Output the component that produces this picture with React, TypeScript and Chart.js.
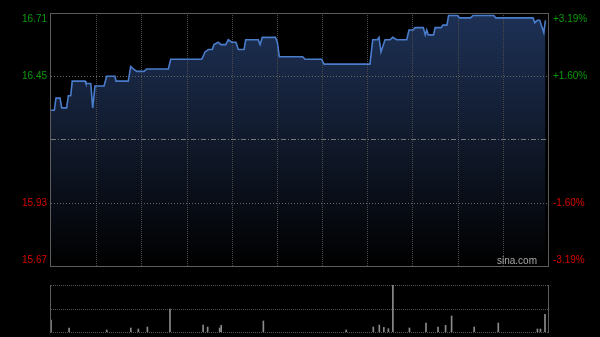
import React, { useEffect, useRef } from "react";
import { Chart, registerables } from "chart.js";

Chart.register(...registerables);

// ---- data ----
const PREV_CLOSE = 16.19;
const SESSION_MINUTES = 330;
const GRID_MINUTES = [30, 60, 90, 120, 150, 180, 210, 240, 270, 300];
const PRICE_TICKS = [15.67, 15.93, 16.19, 16.45, 16.71];
const PRICE_LABELS = ["15.67", "15.93", "", "16.45", "16.71"];
const PCT_LABELS = ["-3.19%", "-1.60%", "", "+1.60%", "+3.19%"];

const TIME_MIN = [
  0, 2.2, 3.3, 6, 7.1, 10.4, 11.5, 13.1, 14.1, 22.6, 23.2, 26.4, 27.7, 29.2, 35.2, 37,
  42.5, 43.2, 51.3, 52.9, 54.6, 56.9, 61.8, 63.5, 77.9, 79.5, 100.1, 102.3, 104.5, 107.1,
  108.2, 111.1, 112.7, 116, 117.7, 120, 122.8, 124.4, 128.2, 129.3, 137.6, 138.8, 140.3,
  149, 150.3, 151.6, 167.1, 168.7, 179.7, 181.3, 211.8, 213.6, 216.7, 217.8, 219.1, 221.8,
  225.1, 226.9, 229.5, 236.2, 237.7, 240.6, 241.7, 247.2, 248.5, 249.5, 250.5, 254, 255.1,
  259.1, 260.2, 262.9, 264, 269.7, 271.3, 278.6, 280.2, 294.1, 295.3, 320.1, 321.2, 322.9,
  324.5, 327.2, 328.3,
];
const PRICE = [
  16.31, 16.31, 16.36, 16.36, 16.32, 16.32, 16.37, 16.37, 16.43, 16.43, 16.42, 16.42, 16.32,
  16.41, 16.41, 16.45, 16.45, 16.43, 16.43, 16.49, 16.48, 16.47, 16.47, 16.48, 16.48, 16.52,
  16.52, 16.55, 16.56, 16.56, 16.58, 16.59, 16.58, 16.58, 16.6, 16.59, 16.59, 16.56, 16.56,
  16.6, 16.6, 16.58, 16.61, 16.61, 16.59, 16.53, 16.53, 16.52, 16.52, 16.5, 16.5, 16.6, 16.6,
  16.61, 16.55, 16.6, 16.6, 16.61, 16.6, 16.6, 16.64, 16.64, 16.65, 16.65, 16.62, 16.64,
  16.62, 16.62, 16.65, 16.65, 16.66, 16.66, 16.7, 16.7, 16.69, 16.69, 16.7, 16.7, 16.69,
  16.69, 16.67, 16.68, 16.68, 16.63, 16.68,
];

const VOL_MIN = [
  0, 12, 37, 53, 58, 64, 79, 101, 104, 112, 113, 141, 196, 214, 218, 221, 224, 227, 238, 249,
  257, 262, 266, 281, 297, 323, 325, 328,
];
const VOLUME = [
  120, 40, 20, 40, 30, 50, 230, 70, 50, 40, 67, 110, 20, 50, 70, 47, 33, 470, 40, 90, 50, 67,
  160, 50, 90, 30, 30, 177,
];

const FONT = '10px "Liberation Sans", Arial, sans-serif';
const GREEN = "#0a9a0a";
const RED = "#d80000";

const mainDecor = {
  id: "mainDecor",
  beforeDatasetsDraw(chart: any) {
    const { ctx, chartArea: a, scales } = chart;
    const x = scales.x;
    const y = scales.y;
    ctx.save();
    ctx.lineWidth = 1;
    // vertical grid
    ctx.strokeStyle = "#4a4a4a";
    ctx.setLineDash([1, 1]);
    for (const m of GRID_MINUTES) {
      const px = Math.round(x.getPixelForValue(m)) + 0.5;
      ctx.beginPath();
      ctx.moveTo(px, a.top);
      ctx.lineTo(px, a.bottom);
      ctx.stroke();
    }
    // horizontal grid
    for (const v of PRICE_TICKS) {
      if (v === PRICE_TICKS[0] || v === PRICE_TICKS[PRICE_TICKS.length - 1]) continue;
      const py = Math.round(y.getPixelForValue(v)) + 0.5;
      if (v === PREV_CLOSE) {
        ctx.strokeStyle = "#777777";
        ctx.setLineDash([5, 2, 1, 2]);
      } else {
        ctx.strokeStyle = "#666666";
        ctx.setLineDash([1, 2]);
      }
      ctx.beginPath();
      ctx.moveTo(a.left, py);
      ctx.lineTo(a.right, py);
      ctx.stroke();
    }
    ctx.restore();
  },
  afterDraw(chart: any) {
    const { ctx, chartArea: a, scales } = chart;
    const y = scales.y;
    ctx.save();
    ctx.setLineDash([]);
    ctx.strokeStyle = "#5c5c5c";
    ctx.lineWidth = 1;
    ctx.strokeRect(a.left - 0.5, a.top + 0.5, a.right - a.left + 1, a.bottom - a.top);
    ctx.font = FONT;
    ctx.textBaseline = "middle";
    PRICE_TICKS.forEach((v, i) => {
      if (!PRICE_LABELS[i]) return;
      let py = y.getPixelForValue(v);
      py = Math.min(Math.max(py, a.top + 6), a.bottom - 6);
      ctx.fillStyle = v > PREV_CLOSE ? GREEN : RED;
      ctx.textAlign = "right";
      ctx.fillText(PRICE_LABELS[i], a.left - 4, py);
      ctx.textAlign = "left";
      ctx.fillText(PCT_LABELS[i], a.right + 5, py);
    });
    ctx.fillStyle = "#a8a8a8";
    ctx.textAlign = "right";
    ctx.textBaseline = "alphabetic";
    ctx.fillText("sina.com", a.right - 11, a.bottom - 2);
    ctx.restore();
  },
};

const volDecor = {
  id: "volDecor",
  beforeDatasetsDraw(chart: any) {
    const { ctx, chartArea: a } = chart;
    ctx.save();
    ctx.lineWidth = 1;
    ctx.strokeStyle = "#555555";
    ctx.setLineDash([1, 1]);
    const rows = [a.top, (a.top + a.bottom) / 2, a.bottom];
    for (const r of rows) {
      const py = Math.round(r) + 0.5;
      ctx.beginPath();
      ctx.moveTo(a.left, py);
      ctx.lineTo(a.right, py);
      ctx.stroke();
    }
    ctx.setLineDash([]);
    ctx.strokeStyle = "#5c5c5c";
    ctx.beginPath();
    ctx.moveTo(a.left - 0.5, a.top);
    ctx.lineTo(a.left - 0.5, a.bottom + 1);
    ctx.moveTo(a.right + 0.5, a.top);
    ctx.lineTo(a.right + 0.5, a.bottom + 1);
    ctx.stroke();
    ctx.restore();
  },
};

export default function App() {
  const mainRef = useRef<HTMLCanvasElement>(null);
  const volRef = useRef<HTMLCanvasElement>(null);

  useEffect(() => {
    const main = new Chart(mainRef.current!, {
      type: "line",
      data: {
        datasets: [
          {
            data: TIME_MIN.map((t, i) => ({ x: t, y: PRICE[i] })),
            borderColor: "#4a7ccc",
            borderWidth: 1.6,
            pointRadius: 0,
            tension: 0,
            fill: "start",
            backgroundColor: (c: any) => {
              const area = c.chart.chartArea;
              if (!area) return "rgba(0,0,0,0)";
              const g = c.chart.ctx.createLinearGradient(0, area.top, 0, area.bottom);
              g.addColorStop(0, "#1d3156");
              g.addColorStop(0.5, "#111a2c");
              g.addColorStop(1, "#000000");
              return g;
            },
          },
        ],
      },
      options: {
        animation: false,
        responsive: false,
        maintainAspectRatio: false,
        layout: { padding: { left: 51, right: 52, top: 13, bottom: 14 } },
        scales: {
          x: { type: "linear", min: 0, max: SESSION_MINUTES, display: false },
          y: { type: "linear", min: PRICE_TICKS[0], max: PRICE_TICKS[PRICE_TICKS.length - 1], display: false },
        },
        plugins: {
          legend: { display: false },
          tooltip: { enabled: false },
          filler: { drawTime: "beforeDraw" },
        } as any,
      },
      plugins: [mainDecor],
    });

    const vol = new Chart(volRef.current!, {
      type: "bar",
      data: {
        datasets: [
          {
            data: VOL_MIN.map((m, i) => ({ x: m, y: VOLUME[i] })) as any,
            backgroundColor: "#8a8a8a",
            barThickness: 1,
            borderWidth: 0,
          },
        ],
      },
      options: {
        animation: false,
        responsive: false,
        maintainAspectRatio: false,
        layout: { padding: { left: 51, right: 52, top: 5, bottom: 5 } },
        scales: {
          x: { type: "linear", min: 0, max: SESSION_MINUTES, offset: false, display: false },
          y: { min: 0, max: Math.max(...VOLUME), display: false },
        },
        plugins: { legend: { display: false }, tooltip: { enabled: false } },
      },
      plugins: [volDecor],
    });

    return () => {
      main.destroy();
      vol.destroy();
    };
  }, []);

  return (
    <div style={{ position: "fixed", left: 0, top: 0, width: 600, height: 337, background: "#000" }}>
      <canvas ref={mainRef} width={600} height={280} style={{ position: "absolute", left: 0, top: 0, width: 600, height: 280 }} />
      <canvas ref={volRef} width={600} height={57} style={{ position: "absolute", left: 0, top: 280, width: 600, height: 57 }} />
    </div>
  );
}
